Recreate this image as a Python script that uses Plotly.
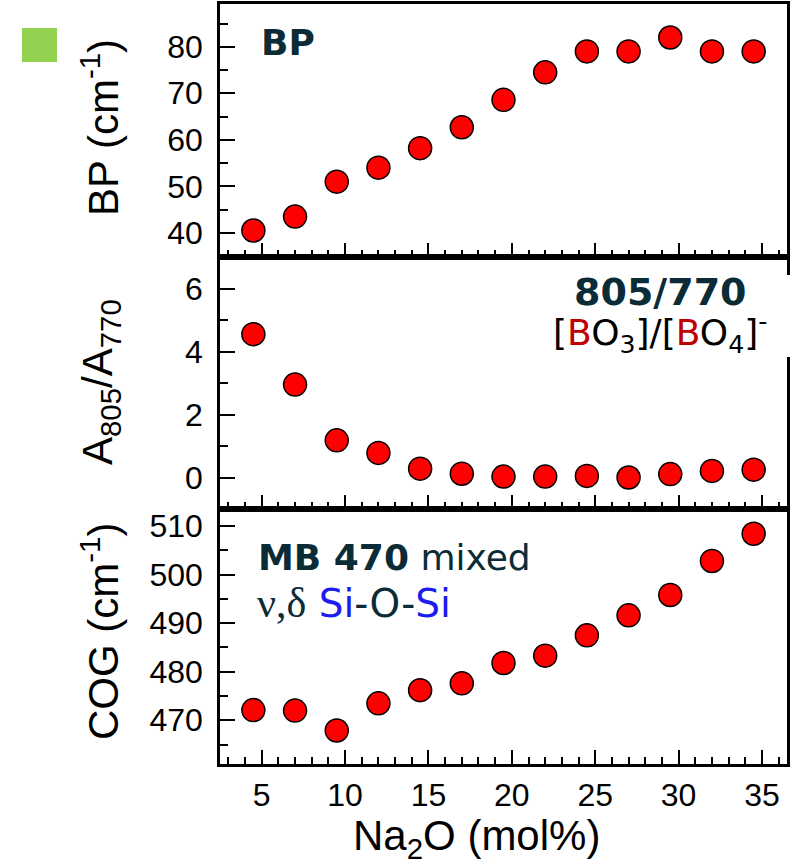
import plotly.graph_objects as go

# ---------------- data ----------------
na2o = [4.5, 7, 9.5, 12, 14.5, 17, 19.5, 22, 24.5, 27, 29.5, 32, 34.5]
bp = [40.5, 43.5, 51.0, 54.0, 58.2, 62.7, 68.6, 74.5, 79.0, 79.0, 82.0, 79.0, 79.0]
ratio_805_770 = [4.55, 2.95, 1.18, 0.78, 0.28, 0.12, 0.03, 0.03, 0.05, 0.0, 0.11, 0.21, 0.25]
cog = [472.1, 472.0, 467.9, 473.5, 476.2, 477.6, 481.8, 483.3, 487.5, 491.6, 495.8, 502.8, 508.4]

x_ticks = [5, 10, 15, 20, 25, 30, 35]

# ---------------- geometry helpers ----------------
W, H = 800, 865
L, R, T, B = 220, 787, 4, 764
PW, PH = R - L, B - T


def px(x):
    return (x - L) / PW


def py(y):
    return (B - y) / PH


DARK = "#0b2b36"
RED_B = "#c00000"
BLUE = "#1c1cf0"
SANS = "DejaVu Sans"
ARIAL = "Liberation Sans, Arial"
SERIF = "Liberation Serif, Times New Roman, serif"

fig = go.Figure()

marker = dict(size=23, color="#ff0000", line=dict(color="black", width=1.5))
for yv, xa, ya in [(bp, "x", "y"), (ratio_805_770, "x2", "y2"), (cog, "x3", "y3")]:
    fig.add_trace(go.Scatter(x=na2o, y=yv, mode="markers", marker=marker,
                             xaxis=xa, yaxis=ya, showlegend=False, cliponaxis=False))

d3 = [0, py(509)]
d2 = [py(509), py(257)]
d1 = [py(257), 1]

common_axis = dict(showline=True, linewidth=2.5, linecolor="black", mirror=True,
                   ticks="inside", tickwidth=2, tickcolor="black", showgrid=False,
                   zeroline=False, automargin=False,
                   tickfont=dict(family=ARIAL, size=32, color="black"))

xcommon = dict(common_axis, range=[2.5, 36.5], tickmode="array", tickvals=x_ticks,
               ticklen=14,
               minor=dict(ticks="inside", ticklen=7, tickwidth=2, dtick=1, tick0=0,
                          tickcolor="black", showgrid=False))

ymin = lambda d: dict(ticks="inside", ticklen=8, tickwidth=2, dtick=d, tick0=0,
                      tickcolor="black", showgrid=False)

fig.update_layout(
    width=W, height=H,
    margin=dict(l=L, r=W - R, t=T, b=H - B),
    plot_bgcolor="white", paper_bgcolor="white",
    showlegend=False,
    xaxis=dict(xcommon, anchor="y", showticklabels=False, domain=[0, 1]),
    xaxis2=dict(xcommon, anchor="y2", showticklabels=False, domain=[0, 1]),
    xaxis3=dict(xcommon, anchor="y3", showticklabels=True, domain=[0, 1],
                ticklabelstandoff=1),
    yaxis=dict(common_axis, domain=d1, anchor="x", range=[34.8, 89.2],
               tickvals=[40, 50, 60, 70, 80], ticklen=15, ticklabelstandoff=8,
               minor=ymin(5)),
    yaxis2=dict(common_axis, domain=d2, anchor="x2", range=[-1, 7],
                tickvals=[0, 2, 4, 6], ticklen=15, ticklabelstandoff=8,
                minor=ymin(1)),
    yaxis3=dict(common_axis, domain=d3, anchor="x3", range=[461, 513.5],
                tickvals=[470, 480, 490, 500, 510], ticklen=15, ticklabelstandoff=8,
                minor=ymin(5)),
)

ann = []
# axis titles
ann.append(dict(text="BP (cm<sup>-1</sup>)", x=px(100), y=py(128), textangle=-90,
                font=dict(family=ARIAL, size=42, color="black")))
ann.append(dict(text="A<sub>805</sub>/A<sub>770</sub>", x=px(100), y=py(382), textangle=-90,
                font=dict(family=ARIAL, size=42, color="black")))
ann.append(dict(text="COG (cm<sup>-1</sup>)", x=px(100), y=py(632), textangle=-90,
                font=dict(family=ARIAL, size=42, color="black")))
ann.append(dict(text="Na<sub>2</sub>O (mol%)", x=px(476), y=py(838), borderpad=0,
                font=dict(family=ARIAL, size=42, color="black")))

# panel labels
ann.append(dict(text="<b>BP</b>", x=px(259), y=py(42), xanchor="left",
                font=dict(family=SANS, size=36, color=DARK)))
ann.append(dict(text="<b>805/770</b>", x=px(660), y=py(292),
                font=dict(family=SANS, size=38, color=DARK)))
ann.append(dict(text="[<span style='color:%s'>B</span>O<sub>3</sub>]/[<span style='color:%s'>B</span>O<sub>4</sub>]<sup>-</sup>" % (RED_B, RED_B),
                x=px(660), y=py(333),
                font=dict(family=SANS, size=36, color="black")))
ann.append(dict(text="<b>MB 470</b> mixed", x=px(256), y=py(557), xanchor="left",
                font=dict(family=SANS, size=36, color=DARK)))
ann.append(dict(text="<span style='font-family:%s;font-size:42px'>ν,δ</span> "
                     "<span style='color:%s'>Si</span>-O-<span style='color:%s'>Si</span>" % (SERIF, BLUE, BLUE),
                x=px(255), y=py(603), xanchor="left",
                font=dict(family=SANS, size=39, color=DARK)))

for a in ann:
    a.setdefault("xref", "paper")
    a.setdefault("yref", "paper")
    a.setdefault("xanchor", "center")
    a.setdefault("yanchor", "middle")
    a.setdefault("showarrow", False)
fig.update_layout(annotations=ann)

# green square and white gap on right frame
fig.add_shape(type="rect", xref="paper", yref="paper",
              x0=px(22), x1=px(57), y0=py(62), y1=py(28),
              fillcolor="#92d050", line=dict(width=0), layer="above")
fig.add_shape(type="rect", xref="paper", yref="paper",
              x0=px(780), x1=px(796), y0=py(357), y1=py(275),
              fillcolor="white", line=dict(width=0), layer="above")

fig.write_html("out.html", config={"displayModeBar": False},
               post_script="document.body.style.margin='0px';")
